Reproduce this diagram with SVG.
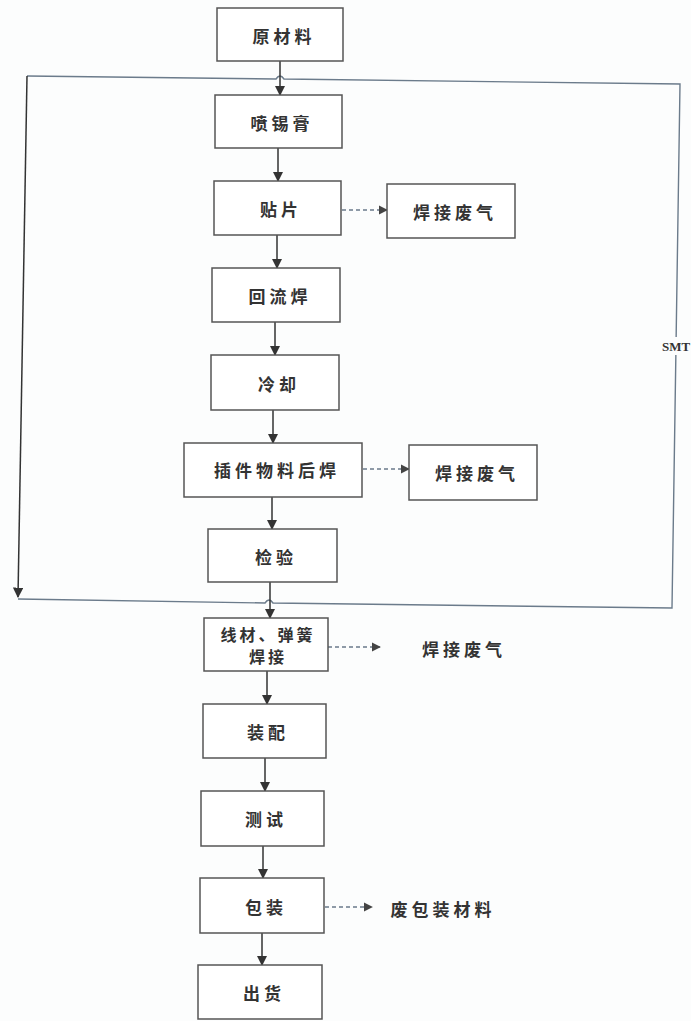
<svg xmlns="http://www.w3.org/2000/svg" width="691" height="1021" viewBox="0 0 691 1021">
<defs>
<marker id="ah" viewBox="0 0 10 10" refX="9" refY="5" markerWidth="7" markerHeight="7" orient="auto"><path d="M0,0 L10,5 L0,10 z" fill="#333"/></marker>
<marker id="ahd" viewBox="0 0 10 10" refX="9" refY="5" markerWidth="7" markerHeight="7" orient="auto"><path d="M0,0 L10,5 L0,10 z" fill="#444"/></marker>
<style>
.box{fill:#fff;stroke:#555;stroke-width:1.5}
.t{font-family:"Noto Sans CJK SC","Noto Sans CJK TC",sans-serif;font-size:17px;font-weight:bold;fill:#333;text-anchor:middle;dominant-baseline:central;letter-spacing:4px}
.t2{font-size:16px;letter-spacing:3px}
.flow{stroke:#333;stroke-width:1.5;fill:none;marker-end:url(#ah)}
.dash{stroke:#6a7a8a;stroke-width:1.3;fill:none;stroke-dasharray:4 3;marker-end:url(#ahd)}
.frame{stroke:#6b7b8b;stroke-width:1.4;fill:none}
.smt{font-family:"Liberation Serif",serif;font-size:13px;font-weight:bold;fill:#333}
</style>
</defs>
<rect width="691" height="1021" fill="#fcfdfd"/>
<g id="connectors">
<path class="frame" d="M27,76 L276,79 Q280,73 284,79 L680,84 L672,608 L273,603 Q269,597 265,603 L18,599"/>
<path class="flow" d="M27,76 L18,597"/>
<rect x="660" y="337" width="31" height="18" fill="#fcfdfd"/>
<path class="flow" d="M280,61 L280,95"/>
<path class="flow" d="M278,148 L278,181"/>
<path class="flow" d="M277,235 L277,268"/>
<path class="flow" d="M275,322 L275,355"/>
<path class="flow" d="M273,410 L273,443"/>
<path class="flow" d="M272,497 L272,529"/>
<path class="flow" d="M270,582 L270,618"/>
<path class="flow" d="M267,671 L267,704"/>
<path class="flow" d="M265,758 L265,791"/>
<path class="flow" d="M263,846 L263,878"/>
<path class="flow" d="M262,933 L262,965"/>
<path class="dash" d="M342,210 L387,210"/>
<path class="dash" d="M363,469 L409,469"/>
<path class="dash" d="M328,647 L380,647"/>
<path class="dash" d="M325,907 L372,907"/>
</g>
<text class="smt" x="662" y="351">SMT</text>
<g id="n1"><rect class="box" x="217" y="8" width="126" height="53"/><text class="t" x="284" y="35">原材料</text></g>
<g id="n2"><rect class="box" x="215" y="95" width="127" height="53"/><text class="t" x="282" y="122">喷锡膏</text></g>
<g id="n3"><rect class="box" x="214" y="181" width="127" height="54"/><text class="t" x="281" y="208">贴片</text></g>
<g id="n4"><rect class="box" x="387" y="184" width="128" height="54"/><text class="t" x="455" y="211">焊接废气</text></g>
<g id="n5"><rect class="box" x="212" y="268" width="128" height="54"/><text class="t" x="280" y="295">回流焊</text></g>
<g id="n6"><rect class="box" x="211" y="355" width="128" height="55"/><text class="t" x="279" y="383">冷却</text></g>
<g id="n7"><rect class="box" x="184" y="443" width="178" height="54"/><text class="t" x="277" y="469">插件物料后焊</text></g>
<g id="n8"><rect class="box" x="409" y="445" width="128" height="55"/><text class="t" x="477" y="472">焊接废气</text></g>
<g id="n9"><rect class="box" x="208" y="529" width="129" height="53"/><text class="t" x="276" y="556">检验</text></g>
<g id="n10"><rect class="box" x="204" y="618" width="124" height="53"/><text class="t t2" x="268" y="634">线材、弹簧</text><text class="t t2" x="268" y="656">焊接</text></g>
<g id="n10w"><text class="t" x="464" y="648">焊接废气</text></g>
<g id="n11"><rect class="box" x="203" y="704" width="123" height="54"/><text class="t" x="268" y="731">装配</text></g>
<g id="n12"><rect class="box" x="201" y="791" width="123" height="55"/><text class="t" x="266" y="818">测试</text></g>
<g id="n13"><rect class="box" x="200" y="878" width="124" height="55"/><text class="t" x="266" y="906">包装</text></g>
<g id="n13w"><text class="t" x="443" y="908">废包装材料</text></g>
<g id="n14"><rect class="box" x="198" y="965" width="124" height="54"/><text class="t" x="264" y="992">出货</text></g>
</svg>
